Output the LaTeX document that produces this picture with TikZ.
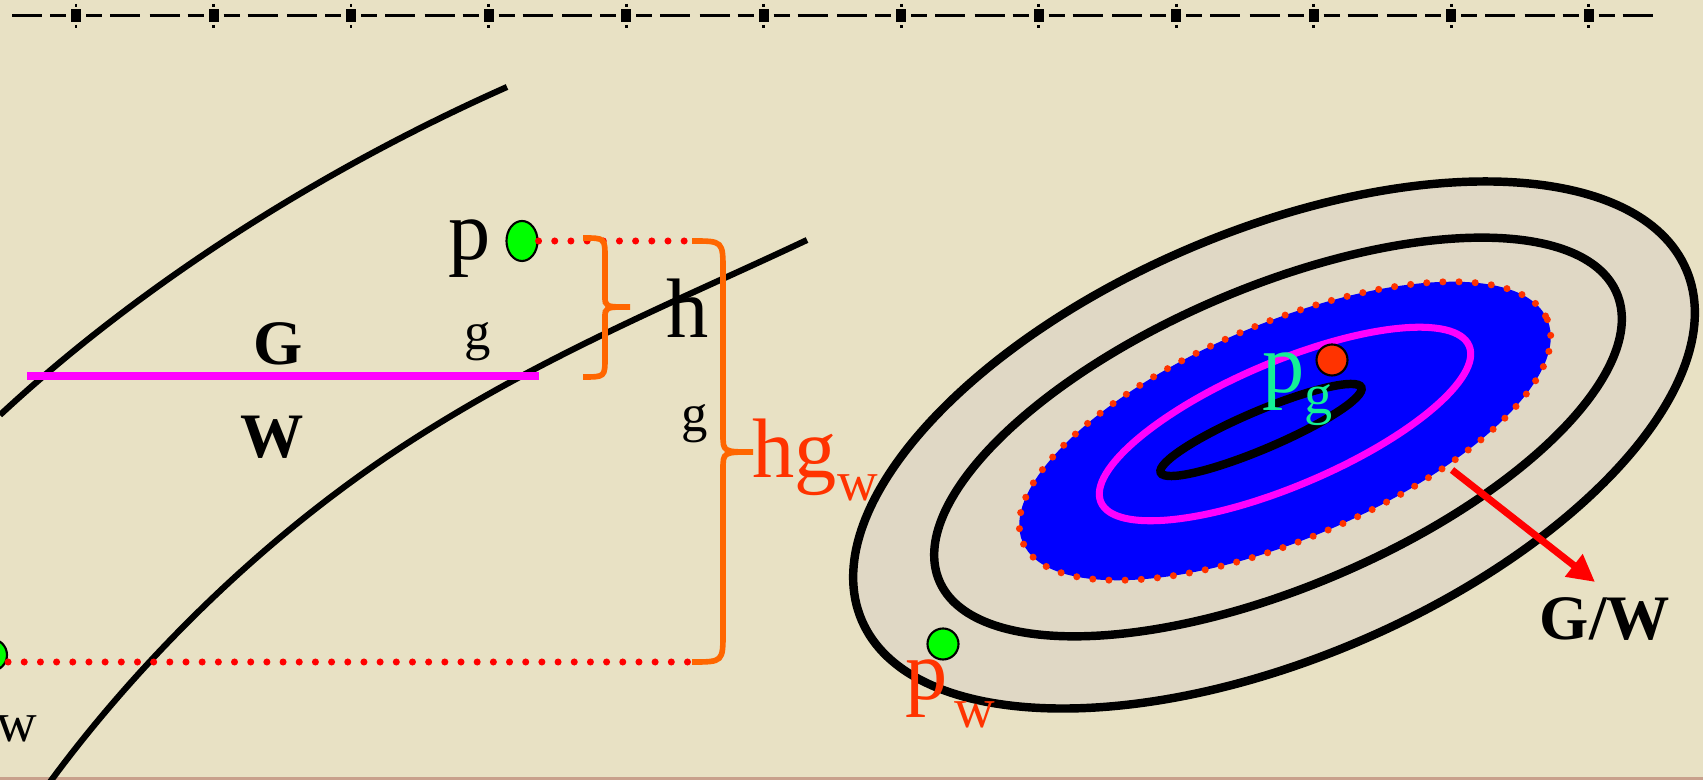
\documentclass[tikz,border=0pt]{standalone}
\usepackage{fontspec}
\setmainfont{Liberation Serif}
\usepackage{tikz}
\usetikzlibrary{shapes,arrows,arrows.meta,positioning,calc}

\definecolor{paper}{RGB}{232,225,196}
\definecolor{ringfill}{RGB}{224,216,197}
\definecolor{braceorange}{RGB}{255,102,0}
\definecolor{labelred}{RGB}{255,51,0}
\definecolor{mint}{RGB}{20,240,150}
\definecolor{dotgreen}{RGB}{0,255,0}
\definecolor{pinkline}{RGB}{255,0,255}
\definecolor{edgebrown}{RGB}{200,160,140}

\newcommand{\lowsub}[2]{\raisebox{-#1}{\fontsize{16}{16}\selectfont #2}}

\begin{document}
\begin{tikzpicture}[x=0.01cm, y=-0.01cm, >=latex']
  % Styles
  \tikzstyle{blackcurve} = [line width=1.75pt, black]
  \tikzstyle{contourline} = [line width=2.4pt, black]
  \tikzstyle{dotline} = [red, line width=2pt, line cap=round, dash pattern=on 0pt off 4.6pt]
  \tikzstyle{rimdots} = [labelred, line width=2pt, line cap=round, dash pattern=on 0pt off 4.6pt]
  \tikzstyle{orangebrace} = [braceorange, line width=1.6pt]
  \tikzstyle{greendot} = [ellipse, draw=black, line width=0.6pt, fill=dotgreen, inner sep=0pt]
  \tikzstyle{reddot} = [circle, draw=black, line width=0.6pt, fill=labelred, inner sep=0pt, minimum size=0.31cm]
  \tikzstyle{lbl} = [inner sep=0pt, anchor=base]
  \tikzstyle{bigfont} = [font=\fontsize{24}{28}\selectfont]
  \tikzstyle{smallfont} = [font=\fontsize{15}{18}\selectfont]
  \tikzstyle{boldfont} = [font=\fontsize{18}{22}\selectfont\bfseries]
  \tikzstyle{rule} = [line width=0.85pt, black]

  \useasboundingbox (0,0) rectangle (1703,780);
  \fill[paper] (0,0) rectangle (1703,780);
  \fill[edgebrown] (0,777) rectangle (1703,780);

  % top rule
  \foreach \i in {0,...,11} {
    \begin{scope}[shift={({76+137.5*\i},16)}]
      \draw[rule] (-64,0) -- (-34,0) (-26,0) -- (-10,0) (10,0) -- (26,0) (34,0) -- (64,0);
      \fill (-5,-6.5) rectangle (5,6.5);
      \draw[rule] (0,-12) -- (0,-9) (0,9) -- (0,12);
    \end{scope}
  }

  % left: constraint curves
  \draw[blackcurve] (0,415) .. controls (140,285) and (320,170) .. (507,87);
  \draw[blackcurve] (50,782) .. controls (110,700) and (230,560) .. (400,448)
    .. controls (540,356) and (680,300) .. (807,240);
  \draw[pinkline, line width=2pt] (27,376) -- (539,376);

  % right: level sets
  \draw[contourline, fill=ringfill, rotate around={23:(1274,445)}] (1274,445) ellipse (448 and 214);
  \draw[contourline, rotate around={23:(1278,437)}] (1278,437) ellipse (368 and 150);
  \fill[blue, rotate around={23:(1285,431)}] (1285,431) ellipse (285 and 108);
  \draw[rimdots, rotate around={23:(1285,431)}] (1285,431) ellipse (285 and 108);
  \draw[pinkline, line width=2pt, rotate around={23:(1285,424)}] (1285,424) ellipse (200 and 62);
  \draw[contourline, rotate around={23:(1261,430)}] (1261,430) ellipse (109 and 19);

  % Nodes
  \node[greendot, minimum width=0.31cm, minimum height=0.40cm] (p) at (522,241) {};
  \node[greendot, minimum size=0.32cm] (pleft) at (-9,655) {};
  \node[greendot, minimum size=0.31cm] (pwdot) at (943,644) {};
  \node[reddot] (pgdot) at (1332,360) {};
  \coordinate (bigtop) at (692,241);
  \coordinate (bigbot) at (692,662);
  \coordinate (gradstart) at (1452,470);
  \coordinate (gradtip) at (1595,582);

  \node[lbl, bigfont] (plabel) at (470,260) {p};
  \node[lbl, boldfont] (Glabel) at (278,365) {G};
  \node[lbl, smallfont] (gone) at (478,350) {g};
  \node[lbl, boldfont] (Wlabel) at (272,458) {W};
  \node[lbl, bigfont] (hlabel) at (688,338) {h};
  \node[lbl, smallfont] (gtwo) at (695,432) {g};
  \node[lbl, bigfont, text=labelred, anchor=base west] (hgw) at (752,478) {hg\lowsub{6.3pt}{w}};
  \node[lbl, font=\fontsize{16}{18}\selectfont] (wleft) at (17,742) {w};
  \node[lbl, bigfont, text=mint, anchor=base west] (pglabel) at (1262,393) {p\lowsub{5.7pt}{g}};
  \node[lbl, bigfont, text=labelred, anchor=base west] (pwlabel) at (905,700) {p\kern2pt\lowsub{7.7pt}{w}};
  \node[lbl, boldfont] (gw) at (1605,640) {G/W};

  % Connections
  \draw[dotline] (p.east) -- (bigtop);
  \draw[dotline] (pleft.east |- bigbot) -- (bigbot);
  \draw[orangebrace] (583,238) .. controls (605,238) .. (605,258) -- (605,296)
    .. controls (605,307) .. (630,307) .. controls (605,307) .. (605,318)
    -- (605,357) .. controls (605,377) .. (583,377);
  \draw[orangebrace] (bigtop) .. controls (723,241) .. (723,271) -- (723,434)
    .. controls (723,452) .. (753,452) .. controls (723,452) .. (723,470)
    -- (723,632) .. controls (723,662) .. (bigbot);
  \draw[-{Triangle[length=0.27cm,width=0.27cm]}, red, line width=2pt] (gradstart) -- (gradtip);

\end{tikzpicture}
\end{document}
